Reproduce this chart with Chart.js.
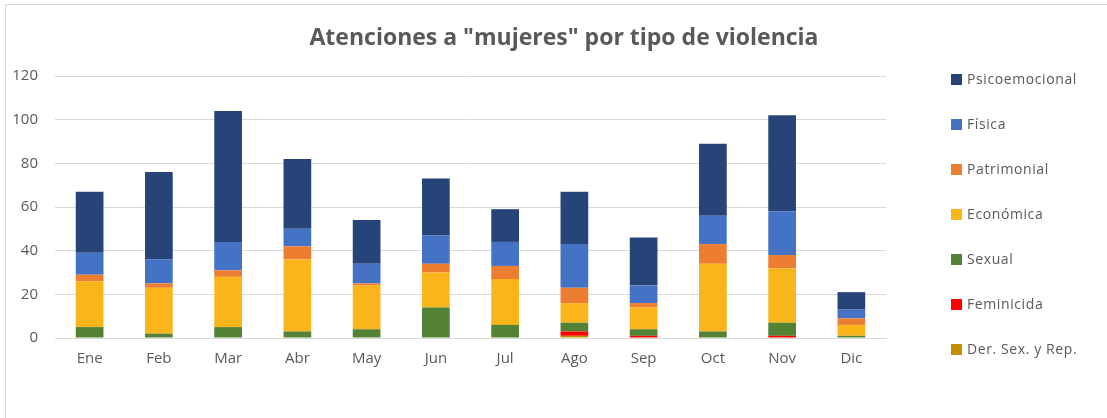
<!DOCTYPE html>
<html>
<head>
<meta charset="utf-8">
<script src="https://cdn.jsdelivr.net/npm/chart.js@4/dist/chart.umd.min.js"></script>
<style>
    html, body { margin: 0; padding: 0; background: #fff; }
    #wrap { position: relative; width: 1107px; height: 418px; overflow: hidden; font-family: 'Open Sans', sans-serif; }
    #frame { position: absolute; left: 5px; top: 4px; width: 1300px; height: 600px; border: 1px solid #d9d9d9; box-sizing: border-box; }
    #title { position: absolute; left: 0; width: 1128px; top: 19px; text-align: center; font-size: 23px; font-weight: bold; color: #595959; line-height: 34px; }
    #legend { position: absolute; left: 951px; top: 0; }
    .item { position: absolute; left: 0; white-space: nowrap; font-size: 14px; color: #595959; letter-spacing: 0.6px; line-height: 20px; }
    .item span.box { display: inline-block; width: 11px; height: 11px; margin-right: 5px; vertical-align: -1px; }
    canvas { position: absolute; left: 0; top: 0; }
</style>
</head>
<body>
<div id="wrap">
    <div id="frame"></div>
    <canvas id="chart" width="1107" height="418"></canvas>
    <div id="title">Atenciones a "mujeres" por tipo de violencia</div>
    <div id="legend"></div>
</div>
<script>
// ===================================
// DATA
// ===================================

const months = ['Ene', 'Feb', 'Mar', 'Abr', 'May', 'Jun', 'Jul', 'Ago', 'Sep', 'Oct', 'Nov', 'Dic'];

// stacked bottom to top
const derSexRep      = [0, 0, 0, 0, 0, 0, 0, 1, 0, 0, 0, 0];
const feminicida     = [0, 0, 0, 0, 0, 0, 0, 2, 1, 0, 1, 0];
const sexual         = [5, 2, 5, 3, 4, 14, 6, 4, 3, 3, 6, 1];
const economica      = [21, 21, 23, 33, 20, 16, 21, 9, 10, 31, 25, 5];
const patrimonial    = [3, 2, 3, 6, 1, 4, 6, 7, 2, 9, 6, 3];
const fisica         = [10, 11, 13, 8, 9, 13, 11, 20, 8, 13, 20, 4];
const psicoemocional = [28, 40, 60, 32, 20, 26, 15, 24, 22, 33, 44, 8];

const yTicks = [0, 20, 40, 60, 80, 100, 120];

const series = [
    { label: 'Der. Sex. y Rep.', data: derSexRep, color: '#bf9000' },
    { label: 'Feminicida', data: feminicida, color: '#ff0000' },
    { label: 'Sexual', data: sexual, color: '#548235' },
    { label: 'Económica', data: economica, color: '#fab51b' },
    { label: 'Patrimonial', data: patrimonial, color: '#ed7d31' },
    { label: 'Física', data: fisica, color: '#4472c4' },
    { label: 'Psicoemocional', data: psicoemocional, color: '#264478' }
];

// ===================================
// CHART
// ===================================

const textColor = '#595959';
const font = { family: "'Open Sans', sans-serif", size: 15 };

const chart = new Chart(document.getElementById('chart').getContext('2d'), {
    type: 'bar',
    data: {
        labels: months,
        datasets: series.map(s => ({
            label: s.label,
            data: s.data,
            backgroundColor: s.color,
            borderWidth: 0,
            barPercentage: 0.4,
            categoryPercentage: 1
        }))
    },
    options: {
        responsive: false,
        animation: false,
        layout: { padding: { left: 12, right: 221, top: 76, bottom: 50 } },
        plugins: {
            legend: { display: false },
            title: { display: false },
            tooltip: { enabled: false }
        },
        scales: {
            x: {
                stacked: true,
                grid: { display: false, drawTicks: false },
                border: { display: true, color: '#d9d9d9', width: 1 },
                ticks: { color: textColor, font: font, padding: 12 },
                afterFit: axis => { axis.height = 30; }
            },
            y: {
                stacked: true,
                min: 0,
                max: 120,
                afterBuildTicks: axis => { axis.ticks = yTicks.map(v => ({ value: v })); },
                grid: { color: '#d9d9d9', drawTicks: false },
                border: { display: false },
                ticks: { color: textColor, font: font, padding: 17 },
                afterFit: axis => { axis.width = 43; }
            }
        }
    }
});

// ===================================
// LEGEND (top to bottom = reverse stack order)
// ===================================

const legend = document.getElementById('legend');
series.slice().reverse().forEach((s, i) => {
    const item = document.createElement('div');
    item.className = 'item';
    item.style.top = (79 + i * 45 - 10) + 'px';
    item.innerHTML = '<span class="box" style="background:' + s.color + '"></span>' + s.label;
    legend.appendChild(item);
});
</script>
</body>
</html>
